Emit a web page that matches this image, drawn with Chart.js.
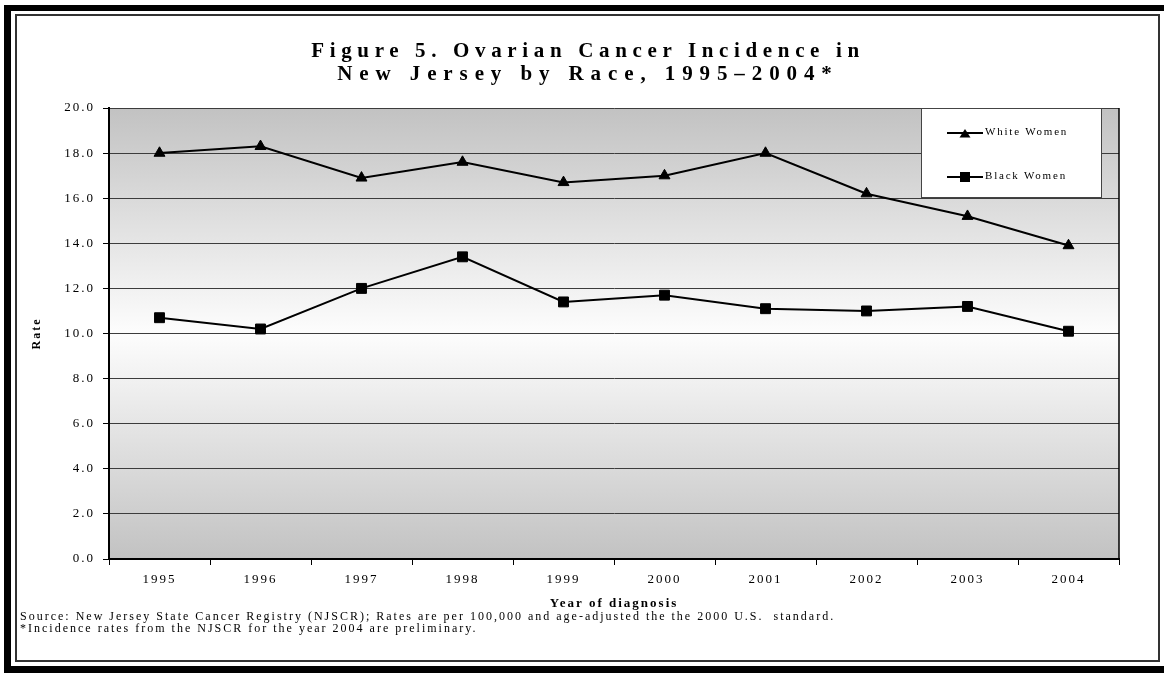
<!DOCTYPE html>
<html>
<head>
<meta charset="utf-8">
<script src="https://cdn.jsdelivr.net/npm/chart.js@4.4.1/dist/chart.umd.min.js"></script>
<style>
  html, body { margin: 0; padding: 0; background: #fff; }
  body { width: 1164px; height: 673px; position: relative; overflow: hidden;
         font-family: 'Liberation Serif', 'Times New Roman', serif; color: #000; }
  #chart { position: absolute; left: 0; top: 0; }
  .band { position: absolute; background: #000; }
  #frame { position: absolute; left: 15px; top: 14px; width: 1145px; height: 648px;
           border: 2px solid #333; box-sizing: border-box; }
  .title { position: absolute; left: 0; width: 1176px; text-align: center;
           font-weight: bold; font-size: 21px; line-height: 23px; white-space: nowrap; }
  .note { position: absolute; left: 20px; font-size: 12px; letter-spacing: 2px; white-space: pre; }
  #legend { position: absolute; left: 921px; top: 108px; width: 181px; height: 90px;
            background: #fff; border: 1px solid #444; box-sizing: border-box; }
  .item { position: absolute; left: 25px; height: 14px; }
  .item svg { position: absolute; left: 0; top: 1px; }
  .item span { position: absolute; left: 38px; top: -1px; font-size: 11px; letter-spacing: 1.8px; white-space: nowrap; }
</style>
</head>
<body>
<canvas id="chart" width="1164" height="673"></canvas>

<div class="band" style="left:4px;top:5px;width:1160px;height:6px"></div>
<div class="band" style="left:4px;top:5px;width:7px;height:668px"></div>
<div class="band" style="left:4px;top:666px;width:1160px;height:7px"></div>
<div id="frame"></div>

<div class="title" style="top:39px;letter-spacing:5.65px">Figure 5. Ovarian Cancer Incidence in</div>
<div class="title" style="top:62px;letter-spacing:6.9px">New Jersey by Race, 1995–2004*</div>

<div id="legend"></div>

<div class="note" style="top:609px">Source: New Jersey State Cancer Registry (NJSCR); Rates are per 100,000 and age-adjusted the the 2000 U.S.  standard.</div>
<div class="note" style="top:621px">*Incidence rates from the NJSCR for the year 2004 are preliminary.</div>

<script>
const years = ['1995', '1996', '1997', '1998', '1999', '2000', '2001', '2002', '2003', '2004'];
const whiteWomen = [18.0, 18.3, 16.9, 17.6, 16.7, 17.0, 18.0, 16.2, 15.2, 13.9];
const blackWomen = [10.7, 10.2, 12.0, 13.4, 11.4, 11.7, 11.1, 11.0, 11.2, 10.1];
const seriesNames = ['White Women', 'Black Women'];
const seriesMarkers = ['triangle', 'rect'];
const yTicks = [0, 2, 4, 6, 8, 10, 12, 14, 16, 18, 20];

const serif = "'Liberation Serif', 'Times New Roman', serif";

// legend box drawn as html on top of the plot
const legendBox = document.getElementById('legend');
seriesNames.forEach(function (name, i) {
    let marker = seriesMarkers[i] === 'triangle'
        ? '<polygon points="12.5,10.5 23.5,10.5 18,2" fill="#000"/>'
        : '<rect x="13" y="1" width="10" height="10" fill="#000"/>';
    let div = document.createElement('div');
    div.className = 'item';
    div.style.top = (17 + i * 44) + 'px';
    div.innerHTML = '<svg width="36" height="12"><line x1="0" y1="6" x2="36" y2="6" stroke="#000" stroke-width="2"/>' +
        marker + '</svg><span>' + name + '</span>';
    legendBox.appendChild(div);
});

// gray -> white -> gray fill behind the plot, plus right edge line
const plotBackground = {
    id: 'plotBackground',
    beforeUpdate(chart) {
        chart.ctx.letterSpacing = '2px';
    },
    beforeDraw(chart) {
        const ctx = chart.ctx;
        const a = chart.chartArea;
        ctx.letterSpacing = '2px';
        const g = ctx.createLinearGradient(0, a.top, 0, a.bottom);
        g.addColorStop(0, '#c2c2c2');
        g.addColorStop(0.5, '#fdfdfd');
        g.addColorStop(1, '#c2c2c2');
        ctx.save();
        ctx.fillStyle = g;
        ctx.fillRect(a.left, a.top, a.right - a.left, a.bottom - a.top);
        ctx.restore();
    },
    beforeDatasetsDraw(chart) {
        const ctx = chart.ctx;
        const a = chart.chartArea;
        ctx.save();
        ctx.strokeStyle = '#000';
        ctx.lineWidth = 1.5;
        ctx.beginPath();
        ctx.moveTo(a.right, a.top);
        ctx.lineTo(a.right, a.bottom);
        ctx.stroke();
        ctx.restore();
    }
};

const datasets = [whiteWomen, blackWomen].map(function (values, i) {
    return {
        label: seriesNames[i],
        data: values,
        borderColor: '#000',
        backgroundColor: '#000',
        borderWidth: 2,
        tension: 0,
        pointStyle: seriesMarkers[i],
        pointRadius: seriesMarkers[i] === 'triangle' ? 6.3 : 7,
        pointBackgroundColor: '#000',
        pointBorderColor: '#000',
        pointBorderWidth: 1
    };
});

new Chart(document.getElementById('chart'), {
    type: 'line',
    data: { labels: years, datasets: datasets },
    options: {
        responsive: false,
        animation: false,
        layout: { padding: { left: 20, top: 108, right: 45, bottom: 62 } },
        plugins: {
            legend: { display: false },
            title: { display: false },
            tooltip: { enabled: false }
        },
        scales: {
            x: {
                offset: true,
                afterFit(scale) { scale.height = 52; },
                grid: {
                    display: true,
                    offset: true,
                    drawOnChartArea: false,
                    drawTicks: true,
                    tickLength: 6,
                    color: '#000',
                    lineWidth: 1
                },
                border: { display: true, color: '#000', width: 2 },
                ticks: {
                    color: '#000',
                    padding: 7,
                    font: { family: serif, size: 13 }
                },
                title: {
                    display: true,
                    text: 'Year of diagnosis',
                    color: '#000',
                    padding: { top: 0, bottom: 0 },
                    font: { family: serif, size: 13, weight: 'bold' }
                }
            },
            y: {
                min: 0,
                max: 20,
                afterFit(scale) { scale.width = 89; },
                afterBuildTicks(scale) {
                    scale.ticks = yTicks.map(function (v) { return { value: v }; });
                },
                grid: {
                    color: '#3c3c3c',
                    lineWidth: 1,
                    tickLength: 6,
                    tickColor: '#000'
                },
                border: { display: true, color: '#000', width: 2 },
                ticks: {
                    color: '#000',
                    padding: 8,
                    font: { family: serif, size: 13 },
                    callback: function (v) { return v.toFixed(1); }
                },
                title: {
                    display: true,
                    text: 'Rate',
                    color: '#000',
                    padding: { top: 10, bottom: 0 },
                    font: { family: serif, size: 12, weight: 'bold' }
                }
            }
        }
    },
    plugins: [plotBackground]
});
</script>
</body>
</html>
